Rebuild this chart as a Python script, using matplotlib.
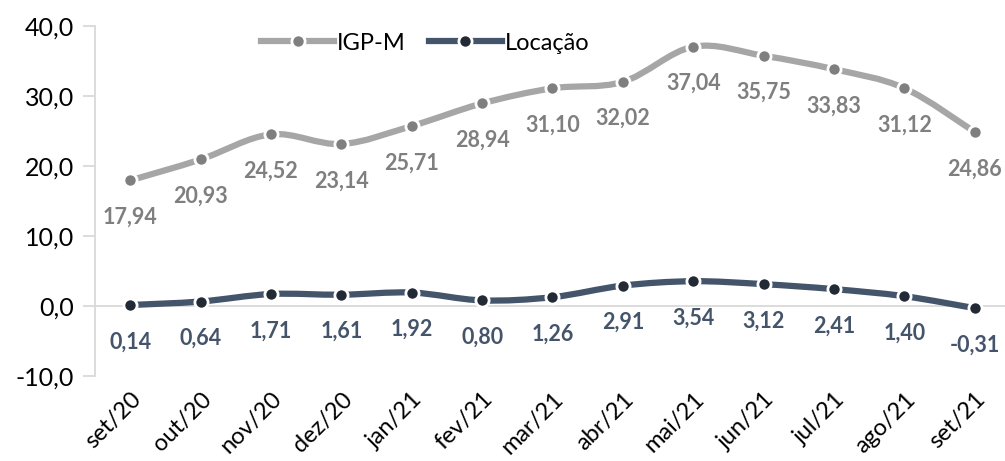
import matplotlib.pyplot as plt
import numpy as np
from matplotlib.path import Path
from matplotlib.patches import PathPatch
from matplotlib.lines import Line2D

meses = ['set/20', 'out/20', 'nov/20', 'dez/20', 'jan/21', 'fev/21', 'mar/21',
         'abr/21', 'mai/21', 'jun/21', 'jul/21', 'ago/21', 'set/21']
igpm = [17.94, 20.93, 24.52, 23.14, 25.71, 28.94, 31.10, 32.02, 37.04, 35.75, 33.83, 31.12, 24.86]
locacao = [0.14, 0.64, 1.71, 1.61, 1.92, 0.80, 1.26, 2.91, 3.54, 3.12, 2.41, 1.40, -0.31]
y_ticks = [-10, 0, 10, 20, 30, 40]

plt.rcParams['font.family'] = ['Lato', 'DejaVu Sans']


def smooth_path(x, y):
    # catmull-rom -> bezier, like excel's smoothed line
    pts = np.column_stack([x, y]).astype(float)
    n = len(pts)
    verts = [pts[0]]
    codes = [Path.MOVETO]
    for i in range(n - 1):
        p0 = pts[i - 1] if i > 0 else pts[i]
        p1 = pts[i]
        p2 = pts[i + 1]
        p3 = pts[i + 2] if i + 2 < n else pts[i + 1]
        c1 = p1 + (p2 - p0) / 6
        c2 = p2 - (p3 - p1) / 6
        verts += [c1, c2, p2]
        codes += [Path.CURVE4] * 3
    return Path(verts, codes)


fig = plt.figure(figsize=(10.05, 4.61), dpi=100)
ax = fig.add_axes([0.0945, 0.1844, 0.9055, 0.7592])

x = np.arange(len(meses))

series = [
    ('IGP-M', igpm, '#a6a6a6', '#7f7f7f', '#7f7f7f'),
    ('Locação', locacao, '#44546a', '#222a35', '#44546a'),
]

ax.axhline(0, color='#d9d9d9', lw=1.3, zorder=1)

handles = []
for name, vals, lc, mc, tc in series:
    ax.add_patch(PathPatch(smooth_path(x, vals), facecolor='none', edgecolor=lc,
                           lw=4.5, capstyle='round', zorder=2))
    ax.plot(x, vals, ls='none', marker='o', ms=9.5, mfc=mc, mec='white', mew=2, zorder=3)
    for xi, v in zip(x, vals):
        ax.annotate(f'{v:.2f}'.replace('.', ','), (xi, v), xytext=(0, -26.5),
                    textcoords='offset points', ha='center', va='center',
                    fontsize=15.5, fontweight='bold', color=tc)
    handles.append(Line2D([], [], color=lc, lw=4.5, marker='o', ms=9.5, mfc=mc,
                          mec='white', mew=2, label=name))

ax.set_xlim(-0.5, 12.43)
ax.set_ylim(-10, 40)
ax.set_yticks(y_ticks)
ax.set_yticklabels([f'{t:.1f}'.replace('.', ',') for t in y_ticks], fontsize=18)
ax.set_xticks(x)
ax.set_xticklabels(meses, rotation=45, ha='right', rotation_mode='anchor', fontsize=17)

for s in ['top', 'right', 'bottom']:
    ax.spines[s].set_visible(False)
ax.spines['left'].set_color('#d9d9d9')
ax.spines['left'].set_linewidth(1.3)
ax.tick_params(axis='y', direction='out', length=9, width=1.3, color='#d9d9d9', pad=6)
ax.tick_params(axis='x', length=0, pad=9)

fig.legend(handles=handles, loc='center', bbox_to_anchor=(425 / 1005, 1 - 43 / 461),
           ncol=2, frameon=False, fontsize=17, handlelength=3.1, handletextpad=0.1,
           columnspacing=1.0)

fig.savefig('out.png', dpi=100)
